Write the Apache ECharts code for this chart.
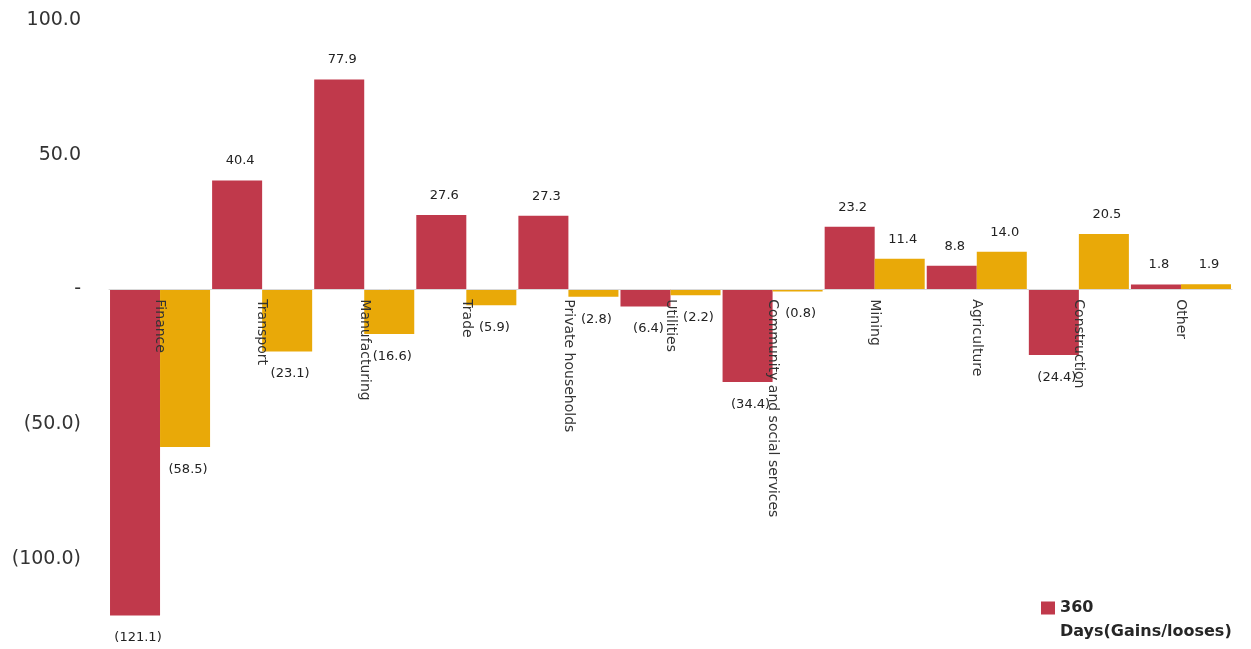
<!DOCTYPE html>
<html>
<head>
<meta charset="utf-8">
<script src="https://cdn.jsdelivr.net/npm/echarts@6/dist/echarts.min.js"></script>
<style>html,body{margin:0;padding:0;background:#fff;}#chart{width:1251px;height:649px;}</style>
</head>
<body>
<div id="chart"></div>
<script>
var categories = ['Finance', 'Transport', 'Manufacturing', 'Trade', 'Private households', 'Utilities', 'Community and social services', 'Mining', 'Agriculture', 'Construction', 'Other'];
var days360 = [-121.1, 40.4, 77.9, 27.6, 27.3, -6.4, -34.4, 23.2, 8.8, -24.4, 1.8];
var secondSeries = [-58.5, -23.1, -16.6, -5.9, -2.8, -2.2, -0.8, 11.4, 14.0, 20.5, 1.9];
var yTickLabels = {'100': '100.0', '50': '50.0', '0': '-', '-50': '(50.0)', '-100': '(100.0)'};

var Y_MIN = -125, Y_MAX = 100;
var GRID_TOP = 20, GRID_BOTTOM = 23, H = 649;
var gridHeight = H - GRID_TOP - GRID_BOTTOM;
// distance from grid bottom up to the zero line, so the category axis sits on zero
var zeroOffset = -gridHeight * (0 - Y_MIN) / (Y_MAX - Y_MIN);

function fmt(v) { return v < 0 ? '(' + Math.abs(v).toFixed(1) + ')' : v.toFixed(1); }
function items(arr) {
  return arr.map(function (v) {
    return { value: v, label: { position: v < 0 ? 'bottom' : 'top', distance: v < 0 ? 16 : 13 } };
  });
}
var labelStyle = {
  show: true,
  fontFamily: 'DejaVu Sans',
  fontSize: 13,
  color: '#222',
  offset: [3, 0],
  formatter: function (p) { return fmt(p.value); }
};

var chart = echarts.init(document.getElementById('chart'));
chart.setOption({
  animation: false,
  backgroundColor: '#fff',
  grid: { left: 109, right: 19, top: GRID_TOP, bottom: GRID_BOTTOM, containLabel: false, outerBoundsMode: 'none' },
  legend: {
    data: ['360\nDays(Gains/looses)'],
    left: 1036,
    top: 591,
    icon: 'path://M0,0L14,0L14,13L0,13Z M0,37L0.001,37L0,37.001Z',
    itemWidth: 14,
    itemHeight: 37,
    textStyle: { fontFamily: 'DejaVu Sans', fontSize: 16, fontWeight: 'bold', color: '#262626', lineHeight: 24 }
  },
  xAxis: {
    type: 'category',
    data: categories,
    z: 10,
    offset: zeroOffset,
    axisLine: { show: true, onZero: false, lineStyle: { color: '#d9d9d9', width: 1 } },
    axisTick: { show: false },
    axisLabel: { rotate: -90, margin: 10, fontFamily: 'DejaVu Sans', fontSize: 14, color: '#333', interval: 0 }
  },
  yAxis: {
    type: 'value',
    min: Y_MIN,
    max: Y_MAX,
    interval: 25,
    axisLine: { show: false },
    axisTick: { show: false },
    splitLine: { show: false },
    axisLabel: {
      margin: 28,
      fontFamily: 'DejaVu Sans',
      fontSize: 19,
      color: '#333',
      formatter: function (v) { return yTickLabels[String(v)] || ''; }
    }
  },
  series: [
    {
      name: '360\nDays(Gains/looses)',
      type: 'bar',
      data: items(days360),
      barGap: 0,
      barCategoryGap: '2%',
      itemStyle: { color: '#C0394B' },
      label: labelStyle
    },
    {
      name: 'Second period',
      type: 'bar',
      data: items(secondSeries),
      barGap: 0,
      barCategoryGap: '2%',
      itemStyle: { color: '#E9A908' },
      label: labelStyle
    }
  ]
});
</script>
</body>
</html>
